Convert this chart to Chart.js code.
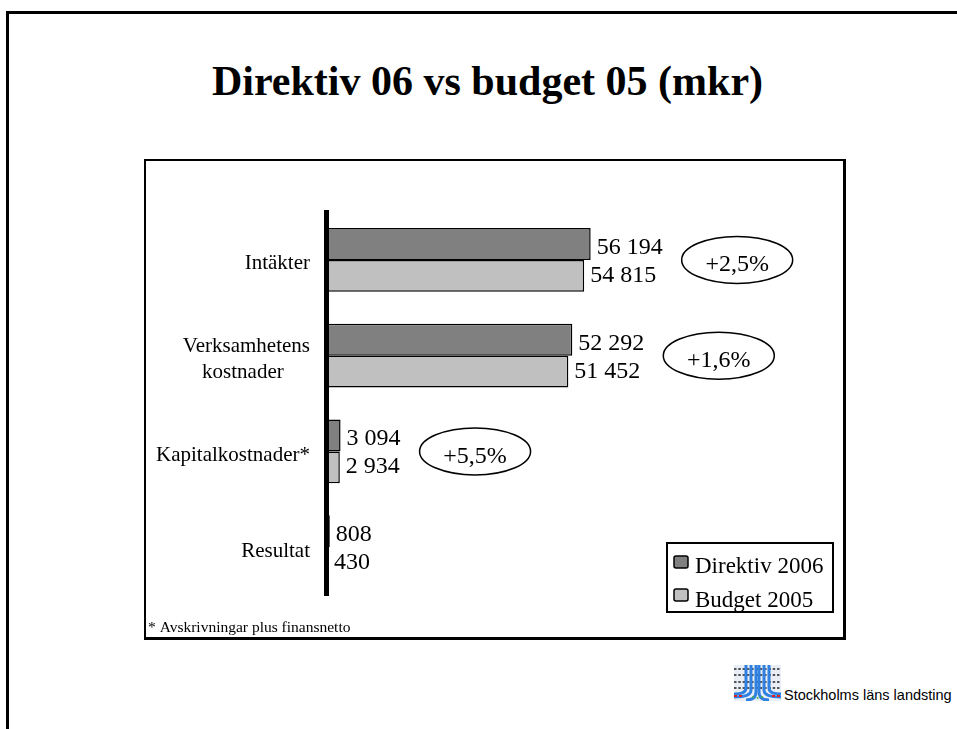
<!DOCTYPE html>
<html>
<head>
<meta charset="utf-8">
<script src="https://cdn.jsdelivr.net/npm/chart.js@4.4.0/dist/chart.umd.min.js"></script>
<style>
html, body { margin: 0; padding: 0; background: #fff; }
body { width: 957px; height: 729px; position: relative; overflow: hidden; font-family: "Liberation Serif", "Times New Roman", serif; }
#frameTop { position: absolute; left: 6px; top: 11px; width: 951px; height: 3px; background: #000; }
#frameLeft { position: absolute; left: 6px; top: 11px; width: 3px; height: 718px; background: #000; }
#title { position: absolute; left: 18px; width: 939px; top: 60px; font-size: 42px; line-height: 42px; font-weight: bold; text-align: center; }
#box { position: absolute; left: 144px; top: 159px; width: 697px; height: 476px; border-style: solid; border-color: #000; border-width: 2px 3px 3px 2px; }
#box canvas { display: block; }
#logo { position: absolute; left: 734px; top: 665px; }
#org { position: absolute; left: 784px; top: 688px; font-family: "Liberation Sans", Arial, sans-serif; font-size: 14.5px; line-height: 15px; white-space: nowrap; }
</style>
</head>
<body>
<div id="frameTop"></div>
<div id="frameLeft"></div>
<div id="title">Direktiv 06 vs budget 05 (mkr)</div>
<div id="box"><canvas id="budgetChart" width="697" height="476"></canvas></div>
<svg id="logo" width="47" height="36" viewBox="0 0 47 36">
    <rect x="0" y="0" width="47" height="36" fill="#e9eef6"/>
    <g stroke="#222" stroke-width="1.6" stroke-dasharray="2.5 1.8">
        <line x1="0" y1="4" x2="47" y2="4"/>
        <line x1="0" y1="10" x2="47" y2="10"/>
        <line x1="0" y1="17" x2="47" y2="17"/>
        <line x1="0" y1="23" x2="47" y2="23"/>
    </g>
    <g stroke="#2f80e0" stroke-width="3" fill="none">
        <path d="M12 0 V23 Q12 29 0 29"/>
        <path d="M17 0 V25 Q17 32 0 32"/>
        <path d="M22 0 V27 Q22 35 12 35"/>
        <path d="M25 0 V27 Q25 35 35 35"/>
        <path d="M30 0 V25 Q30 32 47 32"/>
        <path d="M35 0 V23 Q35 29 47 29"/>
    </g>
    <g stroke="#e02020" stroke-width="2" stroke-dasharray="3 2">
        <line x1="0" y1="31" x2="9" y2="31"/>
        <line x1="38" y1="31" x2="47" y2="31"/>
    </g>
    <g fill="#40b040">
        <circle cx="19" cy="32" r="1"/>
        <circle cx="23.5" cy="33" r="1"/>
        <circle cx="28" cy="32" r="1"/>
    </g>
</svg>
<div id="org">Stockholms läns landsting</div>

<script>
const categories = ['Intäkter', ['Verksamhetens', 'kostnader     '], 'Kapitalkostnader*', 'Resultat'];
const direktiv2006 = [56194, 52292, 3094, 808];
const budget2005 = [54815, 51452, 2934, 430];
const changeLabels = ['+2,5%', '+1,6%', '+5,5%', null];
const footnote = '* Avskrivningar plus finansnetto';
const xMax = 100000;

const serif = '"Liberation Serif", "Times New Roman", serif';

function formatMkr(n) {
    return String(n).replace(/\B(?=(\d{3})+(?!\d))/g, ' ');
}

// value labels right of each bar
const barValues = {
    id: 'barValues',
    afterDatasetsDraw(chart) {
        const ctx = chart.ctx;
        ctx.save();
        ctx.font = '24px ' + serif;
        ctx.fillStyle = '#000';
        ctx.textAlign = 'left';
        ctx.textBaseline = 'alphabetic';
        chart.data.datasets.forEach((ds, i) => {
            const meta = chart.getDatasetMeta(i);
            meta.data.forEach((bar, j) => {
                const dy = i === 0 ? 10 : 6;
                ctx.fillText(formatMkr(ds.data[j]), bar.x + 6, bar.y + dy);
            });
        });
        ctx.restore();
    }
};

// change ovals, legend box and footnote
const extras = {
    id: 'extras',
    afterDraw(chart) {
        const ctx = chart.ctx;
        const yScale = chart.scales.y;
        const top = chart.getDatasetMeta(0);
        ctx.save();

        ctx.font = '24px ' + serif;
        ctx.lineWidth = 1.5;
        ctx.strokeStyle = '#000';
        ctx.fillStyle = '#000';
        changeLabels.forEach((txt, j) => {
            if (!txt) return;
            const bar = top.data[j];
            const labelEnd = bar.x + 6 + ctx.measureText(formatMkr(direktiv2006[j])).width;
            const cx = labelEnd + 19 + 55.5;
            const cy = yScale.getPixelForValue(j);
            ctx.beginPath();
            ctx.ellipse(cx, cy, 55.5, 23.5, 0, 0, Math.PI * 2);
            ctx.stroke();
            ctx.textAlign = 'center';
            ctx.fillText(txt, cx, cy + 11.5);
        });

        // legend
        const lx = chart.width - 10 - 166, ly = chart.height - 25 - 69;
        ctx.lineWidth = 2;
        ctx.strokeRect(lx, ly, 166, 69);
        ctx.font = '23px ' + serif;
        ctx.textAlign = 'left';
        chart.data.datasets.forEach((ds, i) => {
            const sy = ly + 13 + i * 33;
            ctx.beginPath();
            ctx.roundRect(lx + 7, sy, 14, 12, 2);
            ctx.fillStyle = ds.backgroundColor;
            ctx.fill();
            ctx.lineWidth = 1.5;
            ctx.stroke();
            ctx.fillStyle = '#000';
            ctx.fillText(ds.label, lx + 28, ly + 30 + i * 34);
        });

        ctx.font = '15.5px ' + serif;
        ctx.fillText(footnote, 2, chart.height - 5);
        ctx.restore();
    }
};

new Chart(document.getElementById('budgetChart'), {
    type: 'bar',
    data: {
        labels: categories,
        datasets: [{
            label: 'Direktiv 2006',
            data: direktiv2006,
            backgroundColor: '#808080',
            borderColor: '#000',
            borderWidth: 1.5,
            categoryPercentage: 0.668,
            barPercentage: 1
        }, {
            label: 'Budget 2005',
            data: budget2005,
            backgroundColor: '#c0c0c0',
            borderColor: '#000',
            borderWidth: 1.5,
            categoryPercentage: 0.668,
            barPercentage: 1
        }]
    },
    options: {
        indexAxis: 'y',
        responsive: false,
        animation: false,
        layout: { padding: { top: 51, bottom: 42, left: 0, right: 46 } },
        plugins: {
            legend: { display: false },
            tooltip: { enabled: false },
            title: { display: false }
        },
        scales: {
            x: { display: false, min: 0, max: xMax },
            y: {
                grid: { display: false, drawTicks: false },
                border: { display: true, color: '#000', width: 5, z: 1 },
                ticks: {
                    color: '#000',
                    padding: 16,
                    labelOffset: 4,
                    font: { family: serif, size: 21, lineHeight: 1.24 }
                },
                afterFit(scale) { scale.width = 180; }
            }
        }
    },
    plugins: [barValues, extras]
});
</script>
</body>
</html>
